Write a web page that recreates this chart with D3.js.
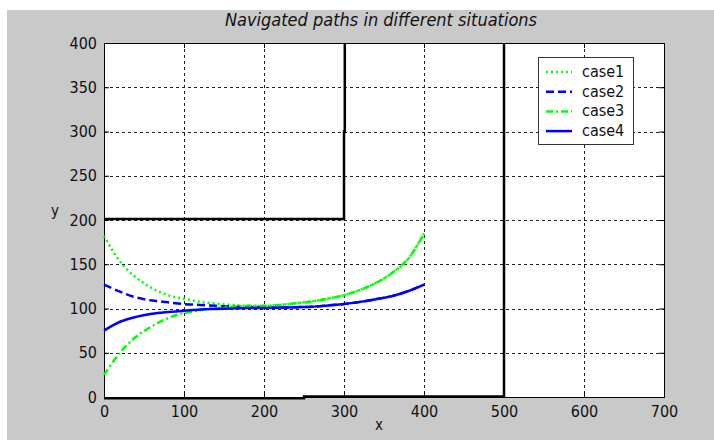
<!DOCTYPE html>
<html>
<head>
<meta charset="utf-8">
<script src="https://cdn.jsdelivr.net/npm/d3@7"></script>
<style>
  html, body { margin: 0; padding: 0; background: #fff; }
  svg { display: block; }
  text { font-family: "Liberation Sans Narrow", "DejaVu Sans Condensed", "Liberation Sans", sans-serif; }
</style>
</head>
<body>
<svg id="chart" width="714" height="440"></svg>
<script>
// Sample positions along x for every path
const xs = [0, 20, 40, 60, 80, 100, 120, 140, 160, 180, 200, 220, 240, 260, 280, 300, 320, 340, 360, 380, 400];

// Path y values for the four cases
const case1 = [182, 153, 135, 123, 115, 111, 107.5, 105.5, 104, 103, 103, 104, 106, 108, 111, 115, 121, 129, 140, 156, 185];
const case2 = [127, 119, 112.5, 109, 107, 105, 104, 103, 102, 101.5, 101, 101, 101.5, 102, 103.5, 105, 107.5, 110.5, 114, 119.5, 127];
const case3 = [25, 50, 68, 80, 89, 95, 98, 100.5, 102, 103, 103, 104, 106, 108, 111, 115, 121, 129, 140, 156, 184];
const case4 = [75, 85, 90.5, 94, 96, 97.5, 99, 99.5, 100, 100.5, 100.5, 101, 101.5, 102, 103.5, 105, 107.5, 110.5, 114, 119.5, 127];

const seriesNames = ["case1", "case2", "case3", "case4"];

// Obstacle walls (polylines in data units)
const wallUpper = [[0, 201], [300, 201], [300, 300], [301, 300], [301, 400]];
const wallLower = [[0, -1.5], [250, -1.5], [250, 0.6], [500, 0.6], [500, 400]];

// Tick values and labels
const xTicks = [0, 100, 200, 300, 400, 500, 600, 700];
const yTicks = [0, 50, 100, 150, 200, 250, 300, 350, 400];

const titleText = "Navigated paths in different situations";
const xLabel = "x";
const yLabel = "y";

const svg = d3.select("#chart");

// Figure background
svg.append("rect").attr("x", 7).attr("y", 10).attr("width", 707).attr("height", 430).attr("fill", "#c9c9c9");

const plotL = 104, plotR = 664, plotT = 43, plotB = 397;
const x = d3.scaleLinear().domain([0, 700]).range([plotL, plotR]);
const y = d3.scaleLinear().domain([0, 400]).range([plotB, plotT]);

// Plot area
svg.append("rect").attr("x", plotL).attr("y", plotT).attr("width", plotR - plotL).attr("height", plotB - plotT).attr("fill", "#fff");

// Grid
const grid = svg.append("g").attr("stroke", "#222").attr("stroke-width", 1).attr("stroke-dasharray", "3,3");
grid.selectAll("line.vx").data(xTicks.slice(1, -1)).join("line")
  .attr("x1", d => Math.round(x(d)) + 0.5).attr("x2", d => Math.round(x(d)) + 0.5)
  .attr("y1", plotT).attr("y2", plotB);
grid.selectAll("line.hy").data(yTicks.slice(1, -1)).join("line")
  .attr("y1", d => Math.round(y(d)) + 0.5).attr("y2", d => Math.round(y(d)) + 0.5)
  .attr("x1", plotL).attr("x2", plotR);

// Axes with inward ticks on all four sides
const xAxis = d3.axisBottom(x).tickValues(xTicks).tickSize(-5).tickPadding(9).tickFormat(d3.format("d"));
const yAxis = d3.axisLeft(y).tickValues(yTicks).tickSize(-5).tickPadding(7).tickFormat(d3.format("d"));
const xAxisTop = d3.axisTop(x).tickValues(xTicks).tickSize(-5).tickFormat("");
const yAxisRight = d3.axisRight(y).tickValues(yTicks).tickSize(-5).tickFormat("");

const gx = svg.append("g").attr("transform", `translate(0,${plotB})`).call(xAxis);
const gy = svg.append("g").attr("transform", `translate(${plotL},0)`).call(yAxis);
const gxt = svg.append("g").attr("transform", `translate(0,${plotT})`).call(xAxisTop);
const gyr = svg.append("g").attr("transform", `translate(${plotR},0)`).call(yAxisRight);
[gx, gy, gxt, gyr].forEach(g => {
  g.select(".domain").remove();
  g.selectAll(".tick line").attr("stroke", "#000");
  g.selectAll(".tick text").attr("fill", "#111").style("font-size", "16px")
    .style("font-family", '"Liberation Sans Narrow", "DejaVu Sans Condensed", sans-serif');
});

// Axes box
svg.append("rect").attr("x", plotL + 0.5).attr("y", plotT + 0.5).attr("width", plotR - plotL).attr("height", plotB - plotT)
  .attr("fill", "none").attr("stroke", "#000").attr("stroke-width", 1);

// Walls
const wallLine = d3.line().x(d => x(d[0])).y(d => y(d[1]));
[wallUpper, wallLower].forEach(w => {
  svg.append("path").attr("d", wallLine(w)).attr("fill", "none").attr("stroke", "#000").attr("stroke-width", 2.5);
});

// Paths
const styles = {
  case1: { color: "#00ff00", dash: "2,3" },
  case2: { color: "#0000ff", dash: "8,4" },
  case3: { color: "#00ff00", dash: "7,3,2,3" },
  case4: { color: "#0000ff", dash: null }
};
const seriesData = { case1, case2, case3, case4 };
const pathLine = d3.line().x(d => x(d[0])).y(d => y(d[1])).curve(d3.curveCatmullRom);

seriesNames.forEach(name => {
  const pts = xs.map((xv, i) => [xv, seriesData[name][i]]);
  svg.append("path").attr("d", pathLine(pts)).attr("fill", "none")
    .attr("stroke", styles[name].color).attr("stroke-width", 2.5)
    .attr("stroke-dasharray", styles[name].dash);
});

// Legend
const legend = svg.append("g");
legend.append("rect").attr("x", 538.5).attr("y", 57.5).attr("width", 95).attr("height", 87)
  .attr("fill", "#fff").attr("stroke", "#333").attr("stroke-width", 1);
seriesNames.forEach((name, i) => {
  const ly = 72 + i * 19.7;
  legend.append("line").attr("x1", 546).attr("x2", 572).attr("y1", ly).attr("y2", ly)
    .attr("stroke", styles[name].color).attr("stroke-width", 2.5)
    .attr("stroke-dasharray", styles[name].dash);
  legend.append("text").attr("x", 582).attr("y", ly + 5).attr("fill", "#111")
    .style("font-size", "16px").text(name);
});

// Title and axis labels
svg.append("text").attr("x", 381).attr("y", 26).attr("text-anchor", "middle")
  .style("font-size", "18px").style("font-style", "italic").attr("fill", "#111").text(titleText);
svg.append("text").attr("x", 379).attr("y", 430).attr("text-anchor", "middle")
  .style("font-size", "15px").attr("fill", "#111").text(xLabel);
svg.append("text").attr("x", 55).attr("y", 216).attr("text-anchor", "middle")
  .style("font-size", "15px").attr("fill", "#111").text(yLabel);
</script>
</body>
</html>
